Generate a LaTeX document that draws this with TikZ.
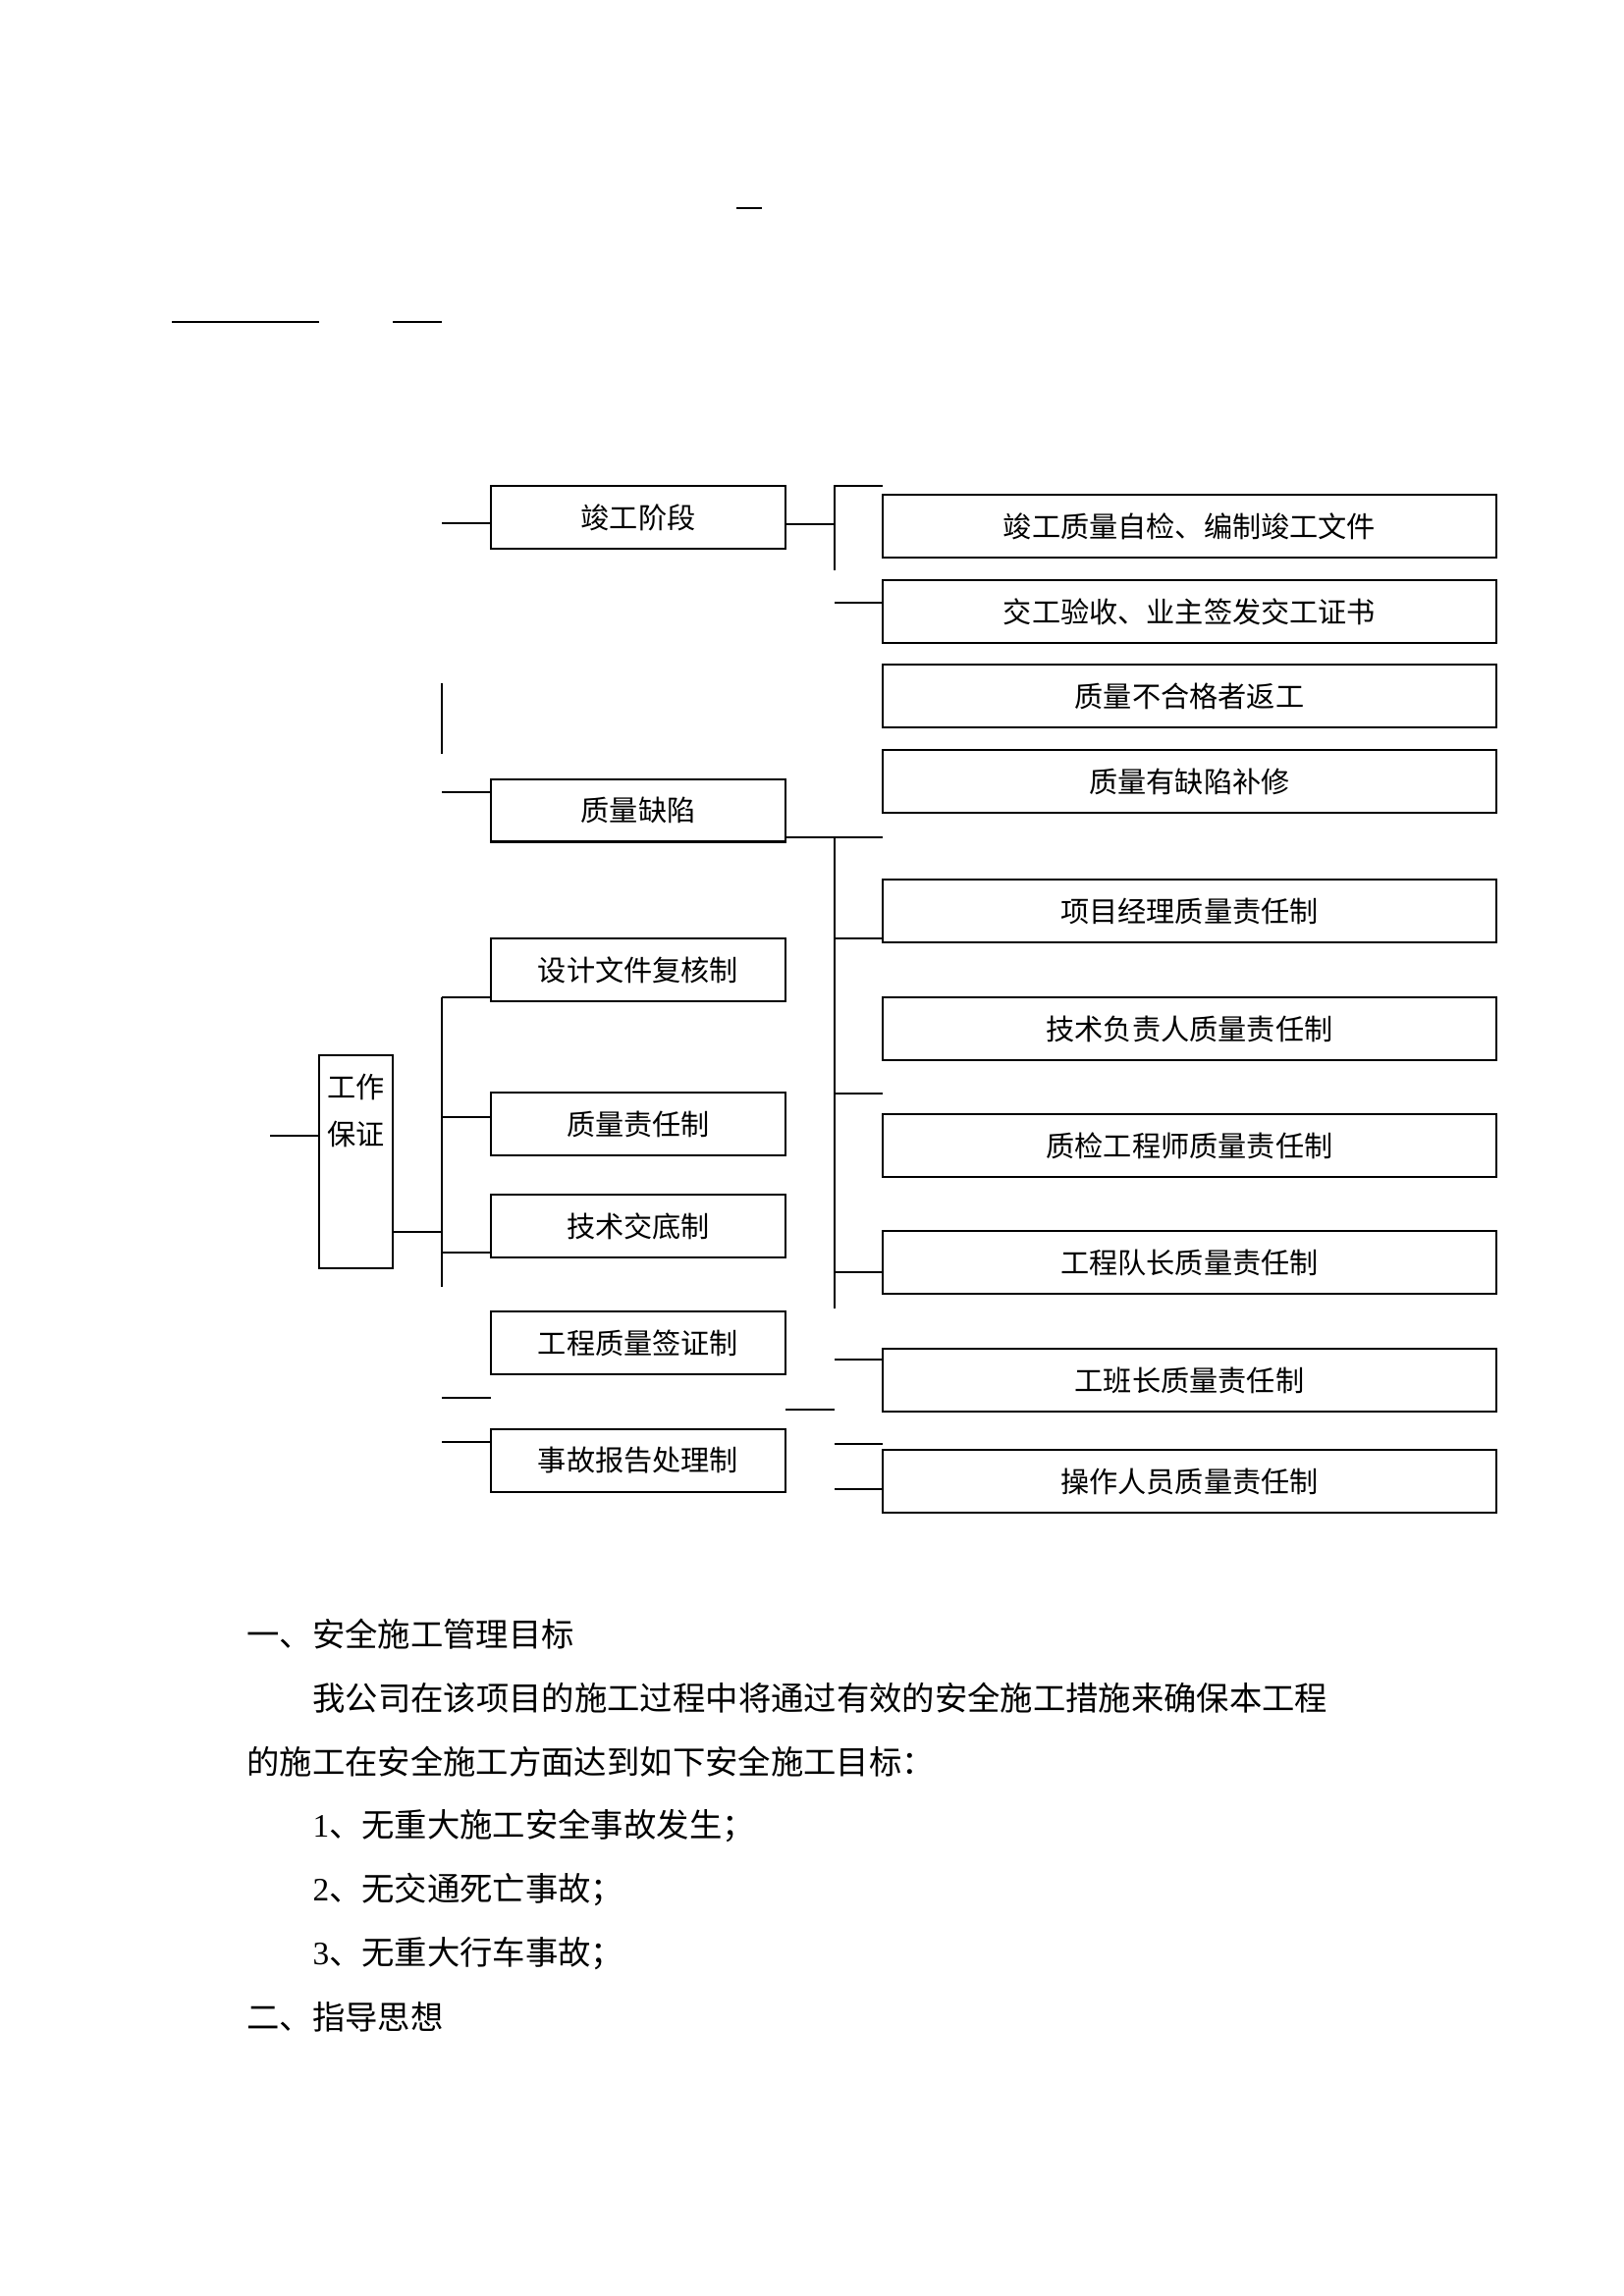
\documentclass[tikz,border=0pt]{standalone}
\usepackage{fontspec}
\setmainfont{Noto Sans CJK SC}
\newfontfamily\tnr{Liberation Serif}
\begin{document}
\begin{tikzpicture}[x=0.3599pt, y=-0.3599pt,
  box/.style={draw, line width=0.75pt, inner sep=0pt, outer sep=0pt, font=\fontsize{10.5}{12.6}\selectfont},
  midbox/.style={box, minimum width=108pt, minimum height=23pt},
  rbox/.style={box, minimum width=225pt, minimum height=23pt},
  ln/.style={line width=0.75pt},
  rulel/.style={line width=1pt},
  body/.style={anchor=west, inner sep=0pt, font=\fontsize{12}{14}\selectfont}]
\useasboundingbox[fill=white] (0,0) rectangle (1654,2339);

% stray rules at top
\coordinate (t1) at (750,212); \coordinate (t2) at (776,212);
\coordinate (t3) at (175,328); \coordinate (t4) at (325,328);
\coordinate (t5) at (400,328); \coordinate (t6) at (450,328);
\draw[rulel] (t1) -- (t2);
\draw[rulel] (t3) -- (t4);
\draw[rulel] (t5) -- (t6);

% middle column
\node[midbox] (m1) at (650,527) {竣工阶段};
\node[midbox] (m2) at (650,825.5) {质量缺陷};
\node[midbox] (m3) at (650,988) {设计文件复核制};
\node[midbox] (m4) at (650,1145) {质量责任制};
\node[midbox] (m5) at (650,1249) {技术交底制};
\node[midbox] (m6) at (650,1368) {工程质量签证制};
\node[midbox] (m7) at (650,1488) {事故报告处理制};

% right column
\node[rbox] (r1) at (1211.5,536) {竣工质量自检、编制竣工文件};
\node[rbox] (r2) at (1211.5,623) {交工验收、业主签发交工证书};
\node[rbox] (r3) at (1211.5,709) {质量不合格者返工};
\node[rbox] (r4) at (1211.5,796) {质量有缺陷补修};
\node[rbox] (r5) at (1211.5,928) {项目经理质量责任制};
\node[rbox] (r6) at (1211.5,1048) {技术负责人质量责任制};
\node[rbox] (r7) at (1211.5,1167) {质检工程师质量责任制};
\node[rbox] (r8) at (1211.5,1286) {工程队长质量责任制};
\node[rbox] (r9) at (1211.5,1406) {工班长质量责任制};
\node[rbox] (r10) at (1211.5,1509) {操作人员质量责任制};

% left box
\node[box, minimum width=27pt, minimum height=78.1pt] (wb) at (362.5,1183.5) {};
\node[inner sep=0pt, align=center, font=\fontsize{10.5}{17}\selectfont] (wbt) at (362.5,1131.5) {工作\\保证};

% coordinates
\coordinate (a1) at (450,533);
\coordinate (a2) at (850,534);
\coordinate (a3) at (850,495);
\coordinate (a4) at (850,581);
\coordinate (a5) at (850,614);
\coordinate (a6) at (450,696);
\coordinate (a7) at (450,768);
\coordinate (a8) at (450,807);
\coordinate (b1) at (850,853);
\coordinate (b2) at (850,1333);
\coordinate (b3) at (850,956);
\coordinate (b4) at (850,1114);
\coordinate (b5) at (850,1296);
\coordinate (b6) at (850,1385);
\coordinate (b7) at (850,1471);
\coordinate (b8) at (850,1517);
\coordinate (b9a) at (800,1436);
\coordinate (b9) at (850,1436);
\coordinate (w1) at (275,1157);
\coordinate (w2) at (450,1255);
\coordinate (w3) at (450,1016);
\coordinate (w4) at (450,1311);
\coordinate (w5) at (450,1138);
\coordinate (w6) at (450,1276);
\coordinate (w7) at (450,1424);
\coordinate (w7e) at (500,1424);
\coordinate (w8) at (450,1469);

% connectors: upper part
\draw[ln] (a1) -- (m1.west |- a1);
\draw[ln] (m1.east |- a2) -- (a2);
\draw[ln] (r1.west |- a3) -- (a3) -- (a4);
\draw[ln] (a5) -- (r2.west |- a5);
\draw[ln] (a6) -- (a7);
\draw[ln] (a8) -- (m2.west |- a8);
\draw[ln] (m2.east |- b1) -- (r4.west |- b1);
\draw[ln] (b1) -- (b2);
\draw[ln] (b3) -- (r5.west |- b3);
\draw[ln] (b4) -- (r6.west |- b4);
\draw[ln] (b5) -- (r8.west |- b5);
\draw[ln] (b6) -- (r9.west |- b6);
\draw[ln] (b7) -- (r10.west |- b7);
\draw[ln] (b8) -- (r10.west |- b8);
\draw[ln] (b9a) -- (b9);

% connectors: left part
\draw[ln] (w1) -- (wb.west |- w1);
\draw[ln] (wb.east |- w2) -- (w2);
\draw[ln] (w3) -- (w4);
\draw[ln] (w3) -- (m3.west |- w3);
\draw[ln] (w5) -- (m4.west |- w5);
\draw[ln] (w6) -- (m5.west |- w6);
\draw[ln] (w7) -- (w7e);
\draw[ln] (w8) -- (m7.west |- w8);

% body text
\node[body] (p1) at (251,1665) {一、安全施工管理目标};
\node[body] (p2) at (318,1730) {我公司在该项目的施工过程中将通过有效的安全施工措施来确保本工程};
\node[body] (p3) at (251,1795) {的施工在安全施工方面达到如下安全施工目标：};
\node[body] (p4) at (318,1860) {{\tnr 1}、无重大施工安全事故发生；};
\node[body] (p5) at (318,1925) {{\tnr 2}、无交通死亡事故；};
\node[body] (p6) at (318,1990) {{\tnr 3}、无重大行车事故；};
\node[body] (p7) at (251,2055) {二、指导思想};
\end{tikzpicture}
\end{document}
